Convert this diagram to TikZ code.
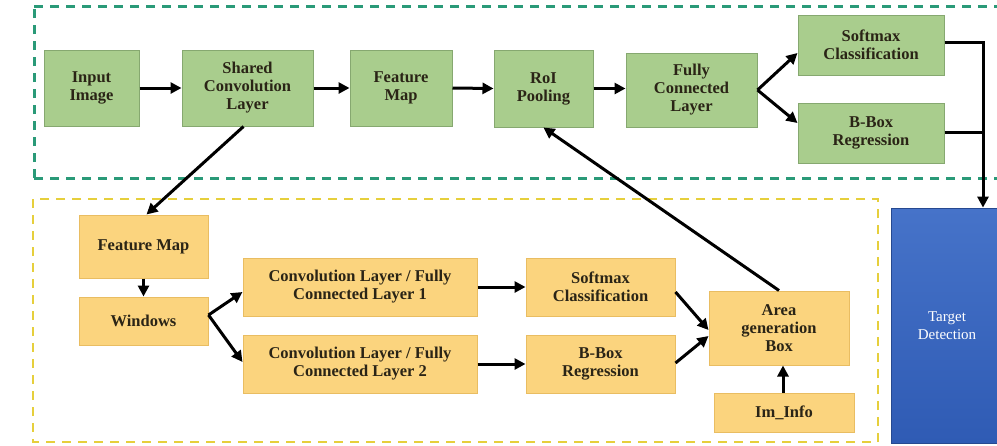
\documentclass[tikz,border=0pt]{standalone}
\usepackage{fontspec}
\setmainfont{Liberation Serif}
\usetikzlibrary{arrows.meta,calc}
\definecolor{gfill}{HTML}{A9CD8D}
\definecolor{gdraw}{HTML}{86A870}
\definecolor{yfill}{HTML}{FBD47E}
\definecolor{ydraw}{HTML}{E9BD62}
\definecolor{gdash}{HTML}{2A9A78}
\definecolor{ydash}{HTML}{E6CF3C}
\definecolor{btop}{HTML}{4673C9}
\definecolor{bbot}{HTML}{2F5BB4}
\definecolor{txt}{HTML}{2A2416}
\tikzset{
  gbox/.style={draw=gdraw, line width=1pt, fill=gfill, align=center, inner sep=2pt,
    font=\fontsize{16.5}{18}\selectfont\bfseries, text=txt},
  ybox/.style={draw=ydraw, line width=1pt, fill=yfill, align=center, inner sep=2pt,
    font=\fontsize{16.5}{18}\selectfont\bfseries, text=txt},
  arr/.style={line width=3pt, -{Triangle[length=11pt,width=11pt]}},
  plain/.style={line width=3pt},
  gframe/.style={draw=gdash, line width=3pt, dash pattern=on 9pt off 7pt},
  yframe/.style={draw=ydash, line width=2.6pt, dash pattern=on 9pt off 7pt},
}
\begin{document}
\begin{tikzpicture}[x=1pt,y=-1pt]
\useasboundingbox (0,0) rectangle (997,445);
\fill[white] (0,0) rectangle (997,445);
% frames
\draw[gframe] (34,6) -- (1010,6);
\draw[gframe] (34,178) -- (1010,178);
\draw[gframe] (34,178) -- (34,6);
\draw[yframe] (33,199) rectangle (878,442);
% green nodes
\node[gbox, minimum width=95, minimum height=76] (in) at (91.5,88) {Input\\Image};
\node[gbox, minimum width=131, minimum height=76] (shared) at (247.5,88) {Shared\\Convolution\\Layer};
\node[gbox, minimum width=102, minimum height=76] (fm) at (401,88) {Feature\\Map};
\node[gbox, minimum width=99, minimum height=77] (roi) at (543.5,88.5) {RoI\\Pooling};
\node[gbox, minimum width=131, minimum height=74] (fc) at (691.5,90) {Fully\\Connected\\Layer};
\node[gbox, minimum width=146, minimum height=60] (soft) at (871,45) {Softmax\\Classification};
\node[gbox, minimum width=146, minimum height=60] (bbox) at (871,133) {B-Box\\Regression};
% yellow nodes
\node[ybox, minimum width=129, minimum height=63] (yfm) at (143.5,246.5) {Feature Map};
\node[ybox, minimum width=129, minimum height=48] (win) at (143.5,321) {Windows};
\node[ybox, minimum width=234, minimum height=58] (c1) at (360,287) {Convolution Layer / Fully\\Connected Layer 1};
\node[ybox, minimum width=234, minimum height=58] (c2) at (360,364) {Convolution Layer / Fully\\Connected Layer 2};
\node[ybox, minimum width=149, minimum height=58] (ysoft) at (600.5,287) {Softmax\\Classification};
\node[ybox, minimum width=149, minimum height=58] (ybbox) at (600.5,364) {B-Box\\Regression};
\node[ybox, minimum width=140, minimum height=74] (area) at (779,328) {Area\\generation\\Box};
\node[ybox, minimum width=140, minimum height=39] (iminfo) at (784,412.5) {Im\_Info};
% target
\node[draw=bbot!80!black, line width=0.8pt, top color=btop, bottom color=bbot,
  minimum width=112, minimum height=235, align=center, text=white,
  font=\fontsize{15}{18}\selectfont] (target) at (947,325.5) {Target\\Detection};
% top row arrows
\draw[arr] (in.east) -- (shared.west);
\draw[arr] (shared.east) -- (fm.west);
\draw[arr] (fm.east) -- (roi.west);
\draw[arr] (roi.east) -- (roi.east -| fc.west);
\draw[arr] (fc.east) -- ([yshift=-8pt]soft.west);
\draw[arr] (fc.east) -- ([yshift=10pt]bbox.west);
\coordinate (j1) at (983,42);
\coordinate (j2) at (983,132);
\draw[plain] ([yshift=3pt]soft.east) -- (j1) -- (j2);
\draw[plain] ([yshift=1pt]bbox.east) -- (j2);
\draw[arr] (j1) -- (j1 |- target.north);
% cross-region
\draw[arr] ([xshift=-4pt]shared.south) -- ([xshift=3pt]yfm.north);
\draw[arr] (area.north) -- (roi.south);
% bottom region arrows
\draw[arr] (yfm.south) -- (win.north);
\draw[arr] ([yshift=6pt]win.east) -- ([yshift=-5pt]c1.west);
\draw[arr] ([yshift=6pt]win.east) -- ([yshift=2pt]c2.west);
\draw[arr] (c1.east) -- (ysoft.west);
\draw[arr] (c2.east) -- (ybbox.west);
\draw[arr] ([yshift=-5pt]ysoft.east) -- ([yshift=-2pt]area.west);
\draw[arr] ([yshift=1pt]ybbox.east) -- ([yshift=-8pt]area.west);
\draw[arr] ([xshift=-1pt]iminfo.north) -- ([xshift=-1pt]iminfo.north |- area.south);
\end{tikzpicture}
\end{document}
